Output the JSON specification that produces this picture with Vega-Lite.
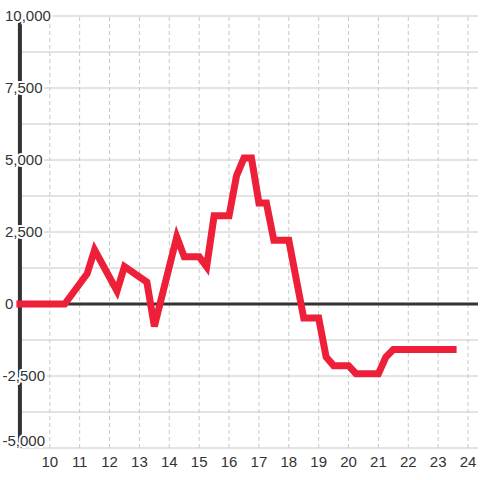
{
  "$schema": "https://vega.github.io/schema/vega-lite/v6.json",
  "width": 480,
  "height": 480,
  "autosize": {"type": "fit", "contains": "padding"},
  "padding": 0,
  "background": "white",
  "config": {"view": {"stroke": null}, "text": {"font": "Liberation Sans", "fontSize": 15, "color": "#333333"}},
  "datasets": {
    "series": [
      {"x": 9, "y": 0}, {"x": 10.5, "y": 0}, {"x": 11.25, "y": 1050}, {"x": 11.5, "y": 1880},
      {"x": 12.25, "y": 450}, {"x": 12.5, "y": 1300}, {"x": 13.25, "y": 760}, {"x": 13.5, "y": -780},
      {"x": 14.25, "y": 2330}, {"x": 14.5, "y": 1640}, {"x": 15, "y": 1640}, {"x": 15.25, "y": 1290},
      {"x": 15.5, "y": 3060}, {"x": 16, "y": 3060}, {"x": 16.25, "y": 4450}, {"x": 16.5, "y": 5070},
      {"x": 16.75, "y": 5070}, {"x": 17, "y": 3510}, {"x": 17.25, "y": 3510}, {"x": 17.5, "y": 2210},
      {"x": 18, "y": 2210}, {"x": 18.5, "y": -490}, {"x": 19, "y": -490}, {"x": 19.25, "y": -1840},
      {"x": 19.5, "y": -2140}, {"x": 20, "y": -2140}, {"x": 20.25, "y": -2420}, {"x": 21, "y": -2420},
      {"x": 21.25, "y": -1840}, {"x": 21.5, "y": -1580}, {"x": 23.5, "y": -1580}
    ],
    "hgrid": [
      {"v": -5000}, {"v": -3750}, {"v": -2500}, {"v": -1250}, {"v": 1250}, {"v": 2500},
      {"v": 3750}, {"v": 5000}, {"v": 6250}, {"v": 7500}, {"v": 8750}, {"v": 10000}
    ],
    "vgrid": [
      {"v": 10}, {"v": 11}, {"v": 12}, {"v": 13}, {"v": 14}, {"v": 15}, {"v": 16}, {"v": 17},
      {"v": 18}, {"v": 19}, {"v": 20}, {"v": 21}, {"v": 22}, {"v": 23}, {"v": 24}
    ],
    "ypos": [
      {"v": 10000, "label": "10,000"}, {"v": 7500, "label": "7,500"}, {"v": 5000, "label": "5,000"},
      {"v": 2500, "label": "2,500"}, {"v": 0, "label": "0"}
    ],
    "yneg": [{"v": -2500, "label": "-2,500"}],
    "ybottom": [{"v": -5000, "label": "-5,000"}],
    "xlab": [
      {"v": 10, "label": "10"}, {"v": 11, "label": "11"}, {"v": 12, "label": "12"}, {"v": 13, "label": "13"},
      {"v": 14, "label": "14"}, {"v": 15, "label": "15"}, {"v": 16, "label": "16"}, {"v": 17, "label": "17"},
      {"v": 18, "label": "18"}, {"v": 19, "label": "19"}, {"v": 20, "label": "20"}, {"v": 21, "label": "21"},
      {"v": 22, "label": "22"}, {"v": 23, "label": "23"}, {"v": 24, "label": "24"}
    ],
    "one": [{}]
  },
  "layer": [
    {
      "data": {"name": "hgrid"},
      "mark": {"type": "rule", "color": "#c8c8c8", "strokeWidth": 1},
      "encoding": {
        "y": {"field": "v", "type": "quantitative", "scale": {"domain": [-6111.11, 10555.56], "nice": false, "zero": false}, "axis": null},
        "x": {"datum": 9, "type": "quantitative", "scale": {"domain": [8.33333, 24.33333], "nice": false, "zero": false}, "axis": null},
        "x2": {"datum": 24.33333}
      }
    },
    {
      "data": {"name": "vgrid"},
      "mark": {"type": "rule", "color": "#c8c8c8", "strokeWidth": 1, "strokeDash": [4, 3]},
      "encoding": {
        "x": {"field": "v", "type": "quantitative", "scale": {"domain": [8.33333, 24.33333], "nice": false, "zero": false}, "axis": null},
        "y": {"datum": -5000, "type": "quantitative", "scale": {"domain": [-6111.11, 10555.56], "nice": false, "zero": false}, "axis": null},
        "y2": {"datum": 10000}
      }
    },
    {
      "data": {"name": "one"},
      "mark": {"type": "rule", "color": "#333333", "strokeWidth": 4},
      "encoding": {
        "x": {"datum": 9, "type": "quantitative", "scale": {"domain": [8.33333, 24.33333], "nice": false, "zero": false}, "axis": null},
        "y": {"datum": -5000, "type": "quantitative", "scale": {"domain": [-6111.11, 10555.56], "nice": false, "zero": false}, "axis": null},
        "y2": {"datum": 10000}
      }
    },
    {
      "data": {"name": "one"},
      "mark": {"type": "rule", "color": "#333333", "strokeWidth": 3},
      "encoding": {
        "y": {"datum": 0, "type": "quantitative", "scale": {"domain": [-6111.11, 10555.56], "nice": false, "zero": false}, "axis": null},
        "x": {"datum": 9, "type": "quantitative", "scale": {"domain": [8.33333, 24.33333], "nice": false, "zero": false}, "axis": null},
        "x2": {"datum": 24.33333}
      }
    },
    {
      "data": {"name": "ypos"},
      "mark": {"type": "text", "align": "left", "baseline": "middle", "stroke": "white", "strokeWidth": 4, "fill": "white", "strokeJoin": "round"},
      "encoding": {
        "x": {"datum": 8.5, "type": "quantitative", "scale": {"domain": [8.33333, 24.33333], "nice": false, "zero": false}, "axis": null},
        "y": {"field": "v", "type": "quantitative", "scale": {"domain": [-6111.11, 10555.56], "nice": false, "zero": false}, "axis": null},
        "text": {"field": "label"}
      }
    },
    {
      "data": {"name": "yneg"},
      "mark": {"type": "text", "align": "left", "baseline": "middle", "dx": -2.5, "stroke": "white", "strokeWidth": 4, "fill": "white", "strokeJoin": "round"},
      "encoding": {
        "x": {"datum": 8.5, "type": "quantitative", "scale": {"domain": [8.33333, 24.33333], "nice": false, "zero": false}, "axis": null},
        "y": {"field": "v", "type": "quantitative", "scale": {"domain": [-6111.11, 10555.56], "nice": false, "zero": false}, "axis": null},
        "text": {"field": "label"}
      }
    },
    {
      "data": {"name": "ybottom"},
      "mark": {"type": "text", "align": "left", "baseline": "middle", "dx": -2.5, "dy": -7, "stroke": "white", "strokeWidth": 4, "fill": "white", "strokeJoin": "round"},
      "encoding": {
        "x": {"datum": 8.5, "type": "quantitative", "scale": {"domain": [8.33333, 24.33333], "nice": false, "zero": false}, "axis": null},
        "y": {"field": "v", "type": "quantitative", "scale": {"domain": [-6111.11, 10555.56], "nice": false, "zero": false}, "axis": null},
        "text": {"field": "label"}
      }
    },
    {
      "data": {"name": "ypos"},
      "mark": {"type": "text", "align": "left", "baseline": "middle", "fill": "#333333"},
      "encoding": {
        "x": {"datum": 8.5, "type": "quantitative", "scale": {"domain": [8.33333, 24.33333], "nice": false, "zero": false}, "axis": null},
        "y": {"field": "v", "type": "quantitative", "scale": {"domain": [-6111.11, 10555.56], "nice": false, "zero": false}, "axis": null},
        "text": {"field": "label"}
      }
    },
    {
      "data": {"name": "yneg"},
      "mark": {"type": "text", "align": "left", "baseline": "middle", "dx": -2.5, "fill": "#333333"},
      "encoding": {
        "x": {"datum": 8.5, "type": "quantitative", "scale": {"domain": [8.33333, 24.33333], "nice": false, "zero": false}, "axis": null},
        "y": {"field": "v", "type": "quantitative", "scale": {"domain": [-6111.11, 10555.56], "nice": false, "zero": false}, "axis": null},
        "text": {"field": "label"}
      }
    },
    {
      "data": {"name": "ybottom"},
      "mark": {"type": "text", "align": "left", "baseline": "middle", "dx": -2.5, "dy": -7, "fill": "#333333"},
      "encoding": {
        "x": {"datum": 8.5, "type": "quantitative", "scale": {"domain": [8.33333, 24.33333], "nice": false, "zero": false}, "axis": null},
        "y": {"field": "v", "type": "quantitative", "scale": {"domain": [-6111.11, 10555.56], "nice": false, "zero": false}, "axis": null},
        "text": {"field": "label"}
      }
    },
    {
      "data": {"name": "series"},
      "mark": {"type": "line", "color": "#ee2039", "strokeWidth": 7, "strokeCap": "square", "strokeJoin": "miter"},
      "encoding": {
        "x": {"field": "x", "type": "quantitative", "scale": {"domain": [8.33333, 24.33333], "nice": false, "zero": false}, "axis": null},
        "y": {"field": "y", "type": "quantitative", "scale": {"domain": [-6111.11, 10555.56], "nice": false, "zero": false}, "axis": null}
      }
    },
    {
      "data": {"name": "xlab"},
      "mark": {"type": "text", "align": "center", "baseline": "middle", "fill": "#333333"},
      "encoding": {
        "x": {"field": "v", "type": "quantitative", "scale": {"domain": [8.33333, 24.33333], "nice": false, "zero": false}, "axis": null},
        "y": {"datum": -5486, "type": "quantitative", "scale": {"domain": [-6111.11, 10555.56], "nice": false, "zero": false}, "axis": null},
        "text": {"field": "label"}
      }
    }
  ]
}
